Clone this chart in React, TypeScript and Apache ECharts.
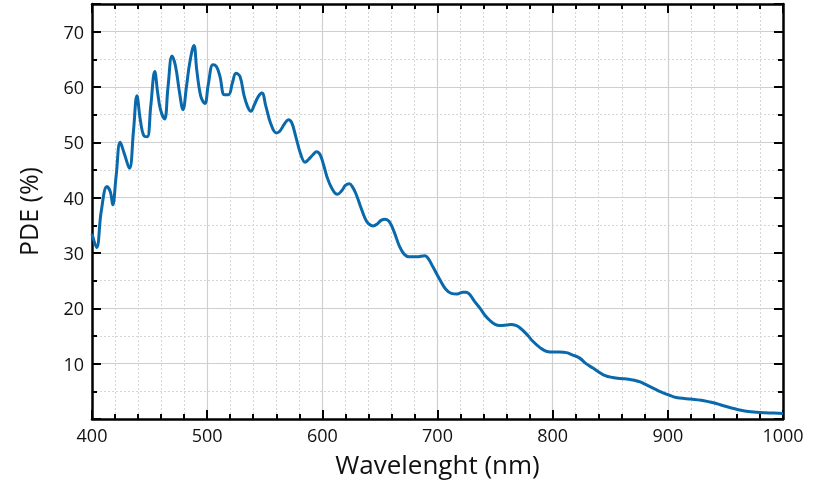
import React, { useEffect, useRef } from "react";
import * as echarts from "echarts";

const wavelengths = [
  400, 404, 408, 413, 416, 418, 421, 424.5, 428, 432.5, 436, 439, 442, 445, 448, 451, 454.5, 457, 459.5, 463,
  466, 469.5, 472.5, 476, 479, 482, 484.8, 488.5, 491, 494.5, 498, 501, 505, 508, 511, 515, 518.5, 522, 525,
  528.5, 532, 535, 538, 541, 544.5, 547.5, 551, 555, 560, 563, 567, 570.5, 573.5, 577, 581, 585, 588, 592, 595,
  598, 601, 604, 608, 613, 617, 620, 623.5, 626, 629, 633, 637, 640, 644, 648, 651, 654.5, 658, 662, 667, 671,
  675.5, 682, 689, 692, 696, 702, 707, 712, 717, 722, 725, 728, 732, 737, 741, 745.5, 750, 754, 760, 764, 768,
  772, 778, 783, 789, 795, 801, 806, 812, 817, 823.5, 829, 835, 840, 845, 852, 859, 866, 871, 876, 881, 888,
  894, 900, 905, 910, 920, 929, 936, 942, 950, 959, 968, 977, 988, 1000,
];

const pde = [
  33.5, 31.0, 37.5, 42.0, 41.0, 38.7, 44.0, 50.0, 48.0, 45.3, 52.0, 58.4, 54.0, 51.2, 51.0, 56.5, 62.8, 59.0, 55.9, 54.2,
  60.0, 65.6, 63.8, 59.0, 55.9, 60.0, 64.3, 67.5, 63.0, 58.3, 57.0, 60.5, 64.0, 63.7, 62.0, 58.6, 58.6, 60.8, 62.5,
  61.9, 58.5, 56.5, 55.6, 56.8, 58.3, 58.9, 56.5, 53.5, 51.7, 52.0, 53.3, 54.1, 53.5, 51.0, 48.0, 46.4, 46.9, 47.8, 48.3,
  47.8, 46.0, 43.8, 41.8, 40.6, 41.3, 42.2, 42.5, 42.0, 40.8, 38.5, 36.3, 35.3, 34.9, 35.3, 35.9, 36.1, 35.7, 34.0, 31.2, 29.8,
  29.3, 29.3, 29.5, 29.0, 27.5, 25.2, 23.5, 22.7, 22.6, 22.9, 22.9, 22.5, 21.3, 20.0, 18.8, 17.8, 17.1, 16.9, 17.0, 17.1, 16.9,
  16.4, 15.2, 14.0, 12.9, 12.2, 12.1, 12.1, 12.0, 11.6, 11.0, 10.0, 9.2, 8.5, 7.9, 7.5, 7.3, 7.2, 7.0, 6.7, 6.2, 5.5,
  4.9, 4.4, 4.0, 3.8, 3.6, 3.4, 3.1, 2.8, 2.3, 1.8, 1.4, 1.2, 1.1, 1.0,
];

const xTicks = { min: 400, max: 1000, interval: 100 };
const yTicks = { min: 0, max: 75, interval: 10 };
const yLabels = [10, 20, 30, 40, 50, 60, 70];

const FONT = "'Open Sans', 'Noto Sans', sans-serif";

export default function App() {
  const ref = useRef<HTMLDivElement>(null);
  useEffect(() => {
    if (!ref.current) return;
    const chart = echarts.init(ref.current, null, { renderer: "svg" });
    const axisLine = { show: true, onZero: false, lineStyle: { color: "#000", width: 2.5 } };
    const tick = { show: true, inside: true, length: 9, lineStyle: { color: "#000", width: 2 } };
    const minorX = { show: true, splitNumber: 5, length: 5, lineStyle: { color: "#000", width: 2 } };
    const minorY = { show: true, splitNumber: 2, length: 5, lineStyle: { color: "#000", width: 2 } };
    const data = wavelengths.map((w, i) => [w, pde[i]]);
    chart.setOption({
      animation: false,
      grid: { left: 92, right: 32, top: 4, bottom: 70 },
      xAxis: [
        {
          type: "value",
          position: "bottom",
          min: xTicks.min,
          max: xTicks.max,
          interval: xTicks.interval,
          axisLine,
          axisTick: tick,
          minorTick: minorX,
          splitLine: { show: true, lineStyle: { color: "#cfcfcf", width: 1.2 } },
          minorSplitLine: { show: true, lineStyle: { color: "#d6d6d6", width: 1, type: [2, 2] } },
          axisLabel: { color: "#111", fontSize: 18, fontFamily: FONT, margin: 7, formatter: (v: number) => String(v) },
          name: "Wavelenght (nm)",
          nameLocation: "middle",
          nameGap: 32,
          nameTextStyle: { color: "#111", fontSize: 26, fontFamily: FONT },
        },
        {
          type: "value",
          position: "top",
          min: xTicks.min,
          max: xTicks.max,
          interval: xTicks.interval,
          axisLine,
          axisTick: tick,
          minorTick: minorX,
          splitLine: { show: false },
          axisLabel: { show: false },
        },
      ],
      yAxis: [
        {
          type: "value",
          position: "left",
          min: yTicks.min,
          max: yTicks.max,
          interval: yTicks.interval,
          axisLine,
          axisTick: tick,
          minorTick: minorY,
          splitLine: { show: true, lineStyle: { color: "#cfcfcf", width: 1.2 } },
          minorSplitLine: { show: true, lineStyle: { color: "#d6d6d6", width: 1, type: [2, 2] } },
          axisLabel: {
            color: "#111",
            fontSize: 18,
            fontFamily: FONT,
            margin: 8,
            formatter: (v: number) => (yLabels.includes(v) ? String(v) : ""),
          },
          name: "PDE (%)",
          nameLocation: "middle",
          nameGap: 52,
          nameTextStyle: { color: "#111", fontSize: 25, fontFamily: FONT },
        },
        {
          type: "value",
          position: "right",
          min: yTicks.min,
          max: yTicks.max,
          interval: yTicks.interval,
          axisLine,
          axisTick: tick,
          minorTick: minorY,
          splitLine: { show: false },
          axisLabel: { show: false },
        },
      ],
      series: [
        {
          type: "line",
          data,
          xAxisIndex: 0,
          yAxisIndex: 0,
          showSymbol: false,
          smooth: 0.4,
          lineStyle: { color: "#0a69ab", width: 3 },
          z: 5,
        },
      ],
    });
    return () => chart.dispose();
  }, []);
  return <div ref={ref} style={{ position: "fixed", left: 0, top: 0, width: 815, height: 489 }} />;
}
